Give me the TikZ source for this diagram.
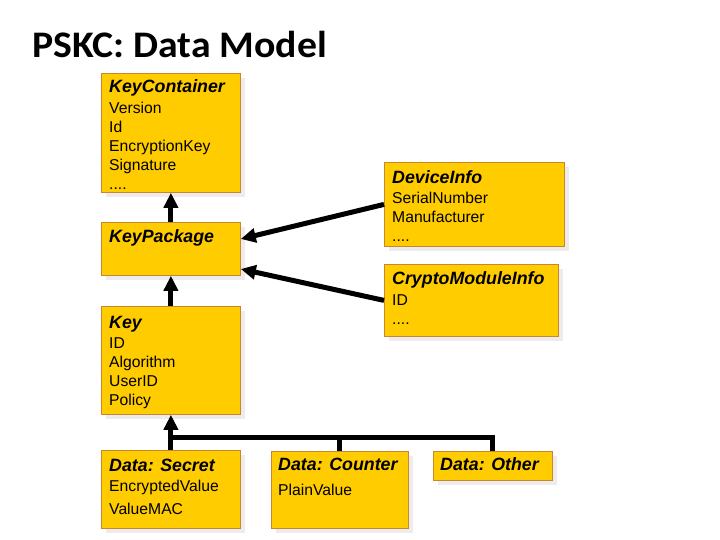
\documentclass[tikz,border=0pt]{standalone}
\usepackage{fontspec}
\setmainfont{Liberation Sans}
\newfontfamily\titlefont[FakeStretch=1.06]{Carlito}
\usetikzlibrary{arrows.meta,shadows,calc}
\definecolor{boxfill}{HTML}{FFCC00}
\definecolor{boxline}{HTML}{C8872F}
\definecolor{shadowgray}{HTML}{ECECEC}
\begin{document}
\begin{tikzpicture}[x=1pt,y=-1pt,
 umlbox/.style={draw=boxline, fill=boxfill, line width=0.8pt, inner sep=0pt, anchor=north west,
   drop shadow={shadow xshift=5pt,shadow yshift=-5pt,fill=shadowgray,opacity=1}},
 boxtitle/.style={anchor=base west, inner sep=0pt, font=\fontsize{17.8}{20}\selectfont\bfseries\itshape},
 boxbody/.style={anchor=base west, inner sep=0pt, font=\fontsize{15.7}{19}\selectfont},
 conn/.style={line width=5pt, -{Triangle[length=15pt,width=14pt]}, black},
 barline/.style={line width=5pt, black}
]
\useasboundingbox (0,0) rectangle (720,540);
\fill[white] (0,0) rectangle (720,540);

\node[anchor=base west, inner sep=0pt, font=\titlefont\fontsize{37.5}{40}\selectfont\bfseries] (title) at (32,58) {PSKC: Data Model};

% KeyContainer
\node[umlbox, minimum width=139pt, minimum height=119pt] (kc) at (101,73) {};
\node[boxtitle] (kc-t) at (109,93) {KeyContainer};
\node[boxbody] (kc-0) at (109,113.5) {Version};
\node[boxbody] (kc-1) at (109,132.5) {Id};
\node[boxbody] (kc-2) at (109,151.5) {EncryptionKey};
\node[boxbody] (kc-3) at (109,170.5) {Signature};
\node[boxbody] (kc-4) at (109,189.5) {....};

% KeyPackage
\node[umlbox, minimum width=139pt, minimum height=53pt] (kp) at (101,222) {};
\node[boxtitle] (kp-t) at (109,243) {KeyPackage};

% DeviceInfo
\node[umlbox, minimum width=180pt, minimum height=84pt] (di) at (384,162) {};
\node[boxtitle] (di-t) at (392,183.5) {DeviceInfo};
\node[boxbody] (di-0) at (392,203.5) {SerialNumber};
\node[boxbody] (di-1) at (392,222.5) {Manufacturer};
\node[boxbody] (di-2) at (392,241.5) {....};

% CryptoModuleInfo
\node[umlbox, minimum width=174pt, minimum height=72pt] (cm) at (384,264) {};
\node[boxtitle] (cm-t) at (392,284.5) {CryptoModuleInfo};
\node[boxbody] (cm-0) at (392,305.5) {ID};
\node[boxbody] (cm-1) at (392,324.5) {....};

% Key
\node[umlbox, minimum width=139pt, minimum height=108pt] (key) at (101,306) {};
\node[boxtitle] (key-t) at (109,328.5) {Key};
\node[boxbody] (key-0) at (109,348.5) {ID};
\node[boxbody] (key-1) at (109,367.5) {Algorithm};
\node[boxbody] (key-2) at (109,386.5) {UserID};
\node[boxbody] (key-3) at (109,405.5) {Policy};

% Data: Secret
\node[umlbox, minimum width=139pt, minimum height=78pt] (ds) at (101,450) {};
\node[boxtitle] (ds-t) at (109,471.5) {Data: Secret};
\node[boxbody] (ds-0) at (109,491.5) {EncryptedValue};
\node[boxbody] (ds-1) at (109,514.5) {ValueMAC};

% Data: Counter
\node[umlbox, minimum width=137pt, minimum height=77pt] (dc) at (271,451) {};
\node[boxtitle] (dc-t) at (278,470.5) {Data: Counter};
\node[boxbody] (dc-0) at (278,495.5) {PlainValue};

% Data: Other
\node[umlbox, minimum width=119pt, minimum height=29pt] (do) at (433,451) {};
\node[boxtitle] (do-t) at (440,470.5) {Data: Other};

% connectors
\draw[conn] (kp.north) -- (kc.south);
\draw[conn] (key.north) -- (kp.south);
\draw[conn] (di.west) -- ($(kp.north east)+(0,17)$);
\draw[conn] (cm.west) -- ($(kp.north east)+(0,47)$);
\draw[conn] (ds.north) -- (key.south);
\coordinate (bar) at (170.5,437);
\draw[barline] (do.north) |- (bar);
\draw[barline] (dc.north) -- (dc.north |- bar);
\end{tikzpicture}
\end{document}
